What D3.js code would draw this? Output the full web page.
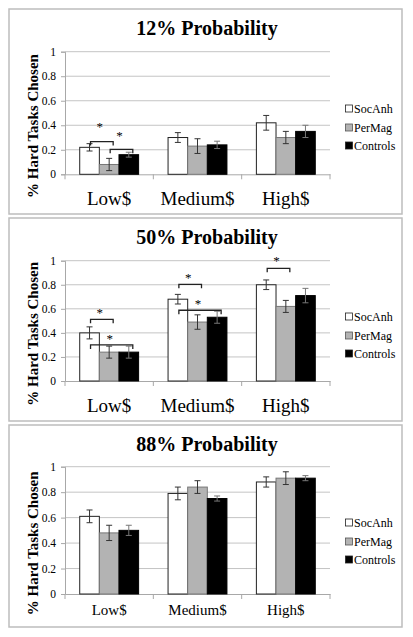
<!DOCTYPE html>
<html>
<head>
<meta charset="utf-8">
<script src="https://cdn.jsdelivr.net/npm/d3@7"></script>
<style>
  html, body { margin: 0; padding: 0; background: #fff; }
  svg { display: block; }
</style>
</head>
<body>
<svg id="chart" width="413" height="637"></svg>
<script>
// ---------- data ----------
const categories = ["Low$", "Medium$", "High$"];
const series = ["SocAnh", "PerMag", "Controls"];
const titles = ["12% Probability", "50% Probability", "88% Probability"];
const yTicks = [0, 0.2, 0.4, 0.6, 0.8, 1];
const yLabel = "% Hard Tasks Chosen";

// values[category][series]
const values12 = [[0.22, 0.08, 0.16], [0.30, 0.23, 0.24], [0.42, 0.30, 0.35]];
const errors12 = [[0.03, 0.05, 0.02], [0.04, 0.06, 0.03], [0.06, 0.05, 0.05]];
const values50 = [[0.40, 0.24, 0.24], [0.68, 0.49, 0.53], [0.80, 0.62, 0.71]];
const errors50 = [[0.05, 0.05, 0.05], [0.04, 0.06, 0.05], [0.04, 0.05, 0.06]];
const values88 = [[0.61, 0.48, 0.50], [0.79, 0.84, 0.75], [0.88, 0.91, 0.91]];
const errors88 = [[0.05, 0.06, 0.04], [0.05, 0.05, 0.02], [0.04, 0.05, 0.02]];

// significance brackets: category, from series, to series, bracket level, star level
const sig12 = [
  { cat: 0, a: 0, b: 1, level: 0.267, star: 0.40 },
  { cat: 0, a: 1, b: 2, level: 0.204, star: 0.33 }
];
const sig50 = [
  { cat: 0, a: 0, b: 1, level: 0.513, star: 0.58 },
  { cat: 0, a: 0, b: 2, level: 0.30, star: 0.363 },
  { cat: 1, a: 0, b: 1, level: 0.804, star: 0.873 },
  { cat: 1, a: 0, b: 2, level: 0.588, star: 0.654 },
  { cat: 2, a: 0, b: 1, level: 0.937, star: 1.01 }
];
const sig88 = [];

const valuesAll = [values12, values50, values88];
const errorsAll = [errors12, errors50, errors88];
const sigAll = [sig12, sig50, sig88];

// ---------- layout ----------
const FONT = "'Liberation Serif', 'Times New Roman', serif";
const panels = [
  { box: [9, 9, 402, 214], yTop: 51.7, yBot: 174.3, titleY: 34.5, catY: 205, catSize: 19, legendY: [113, 132, 150] },
  { box: [9, 218, 402, 421], yTop: 260.7, yBot: 381, titleY: 244, catY: 411.5, catSize: 19, legendY: [321, 340, 358] },
  { box: [9, 425, 402, 627], yTop: 466.7, yBot: 594, titleY: 450.5, catY: 615, catSize: 15, legendY: [527, 546, 564] }
];
const plotLeft = 65, plotRight = 330;
const fills = ["#ffffff", "#b3b3b3", "#000000"];
const strokes = ["#222222", "#777777", "#000000"];

const svg = d3.select("#chart");

const x = d3.scaleBand().domain(categories).range([plotLeft, plotRight]).padding(0);
const xs = d3.scaleBand().domain(series).range([0, x.bandwidth()]).paddingInner(0).paddingOuter(0.75);

panels.forEach((p, pi) => {
  const g = svg.append("g");
  const vals = valuesAll[pi], errs = errorsAll[pi], sigs = sigAll[pi];

  // border
  g.append("rect")
    .attr("x", p.box[0]).attr("y", p.box[1])
    .attr("width", p.box[2] - p.box[0]).attr("height", p.box[3] - p.box[1])
    .attr("fill", "none").attr("stroke", "#bdbdbd").attr("stroke-width", 1.5);

  const y = d3.scaleLinear().domain([0, 1]).range([p.yBot, p.yTop]);

  // title
  g.append("text")
    .attr("x", 207).attr("y", p.titleY)
    .attr("text-anchor", "middle")
    .style("font-size", "20px").style("font-weight", "bold")
    .text(titles[pi]);

  // gridlines
  g.append("g").selectAll("line").data(yTicks.filter(t => t > 0)).join("line")
    .attr("x1", plotLeft).attr("x2", plotRight)
    .attr("y1", d => y(d)).attr("y2", d => y(d))
    .attr("stroke", "#c4c4c4").attr("stroke-width", 1);

  // y axis
  const yAxis = d3.axisLeft(y).tickValues(yTicks).tickSize(4).tickPadding(5).tickFormat(d => String(d));
  const ya = g.append("g").attr("transform", `translate(${plotLeft},0)`).call(yAxis);
  ya.attr("font-family", null).attr("font-size", null);
  ya.select(".domain").attr("stroke", "#a8a8a8");
  ya.selectAll(".tick line").attr("stroke", "#a8a8a8");
  ya.selectAll(".tick text").style("font-size", "11.5px");

  // x axis
  const xAxis = d3.axisBottom(x).tickSize(0).tickFormat("");
  const xa = g.append("g").attr("transform", `translate(0,${p.yBot})`).call(xAxis);
  xa.select(".domain").attr("stroke", "#a8a8a8");
  // boundary ticks
  const bounds = [plotLeft].concat(categories.map(c => x(c) + x.bandwidth()));
  g.append("g").selectAll("line").data(bounds).join("line")
    .attr("x1", d => d).attr("x2", d => d)
    .attr("y1", p.yBot).attr("y2", p.yBot + 5)
    .attr("stroke", "#a8a8a8");

  // category labels
  g.append("g").selectAll("text").data(categories).join("text")
    .attr("x", d => x(d) + x.bandwidth() / 2)
    .attr("y", p.catY)
    .attr("text-anchor", "middle")
    .style("font-size", p.catSize + "px")
    .text(d => d);

  // y label
  const yMid = (p.yTop + p.yBot) / 2 + 13;
  g.append("text")
    .attr("transform", `translate(38,${yMid}) rotate(-90)`)
    .attr("text-anchor", "middle")
    .style("font-size", "15px").style("font-weight", "bold")
    .text(yLabel);

  // bars
  const flat = [];
  categories.forEach((c, ci) => series.forEach((s, si) => flat.push({ c, s, ci, si, v: vals[ci][si], e: errs[ci][si] })));
  g.append("g").selectAll("rect").data(flat).join("rect")
    .attr("x", d => x(d.c) + xs(d.s))
    .attr("y", d => y(d.v))
    .attr("width", xs.bandwidth())
    .attr("height", d => y(0) - y(d.v))
    .attr("fill", d => fills[d.si])
    .attr("stroke", d => strokes[d.si])
    .attr("stroke-width", 1);

  // error bars
  const eg = g.append("g").attr("stroke-width", 1).attr("fill", "none");
  flat.forEach(d => {
    const cx = x(d.c) + xs(d.s) + xs.bandwidth() / 2;
    const col = d.si === 2 ? "#777" : "#333";
    eg.append("line").attr("x1", cx).attr("x2", cx).attr("y1", y(d.v + d.e)).attr("y2", y(d.v - d.e)).attr("stroke", col);
    eg.append("line").attr("x1", cx - 3).attr("x2", cx + 3).attr("y1", y(d.v + d.e)).attr("y2", y(d.v + d.e)).attr("stroke", col);
    eg.append("line").attr("x1", cx - 3).attr("x2", cx + 3).attr("y1", y(d.v - d.e)).attr("y2", y(d.v - d.e)).attr("stroke", col);
  });

  // significance brackets
  sigs.forEach(sg => {
    const c = categories[sg.cat];
    const xa1 = x(c) + xs(series[sg.a]) + xs.bandwidth() / 2 + 1;
    const xb1 = x(c) + xs(series[sg.b]) + xs.bandwidth() / 2 + 4;
    const yy = y(sg.level);
    g.append("path")
      .attr("d", `M${xa1},${yy + 4}V${yy}H${xb1}V${yy + 4}`)
      .attr("fill", "none").attr("stroke", "#222").attr("stroke-width", 1.3);
    g.append("text")
      .attr("x", (xa1 + xb1) / 2 - 2).attr("y", y(sg.star) + 6)
      .attr("text-anchor", "middle")
      .style("font-size", "13px")
      .text("*");
  });

  // legend
  const lg = g.append("g");
  series.forEach((s, si) => {
    const ly = p.legendY[si];
    lg.append("rect")
      .attr("x", 345.5).attr("y", ly - 8).attr("width", 7).attr("height", 7)
      .attr("fill", fills[si]).attr("stroke", si === 1 ? "#555" : "#222").attr("stroke-width", 0.8);
    lg.append("text")
      .attr("x", 354).attr("y", ly)
      .style("font-size", "12px")
      .text(s);
  });
});

svg.selectAll("text").style("font-family", FONT).attr("fill", "#000");
</script>
</body>
</html>
